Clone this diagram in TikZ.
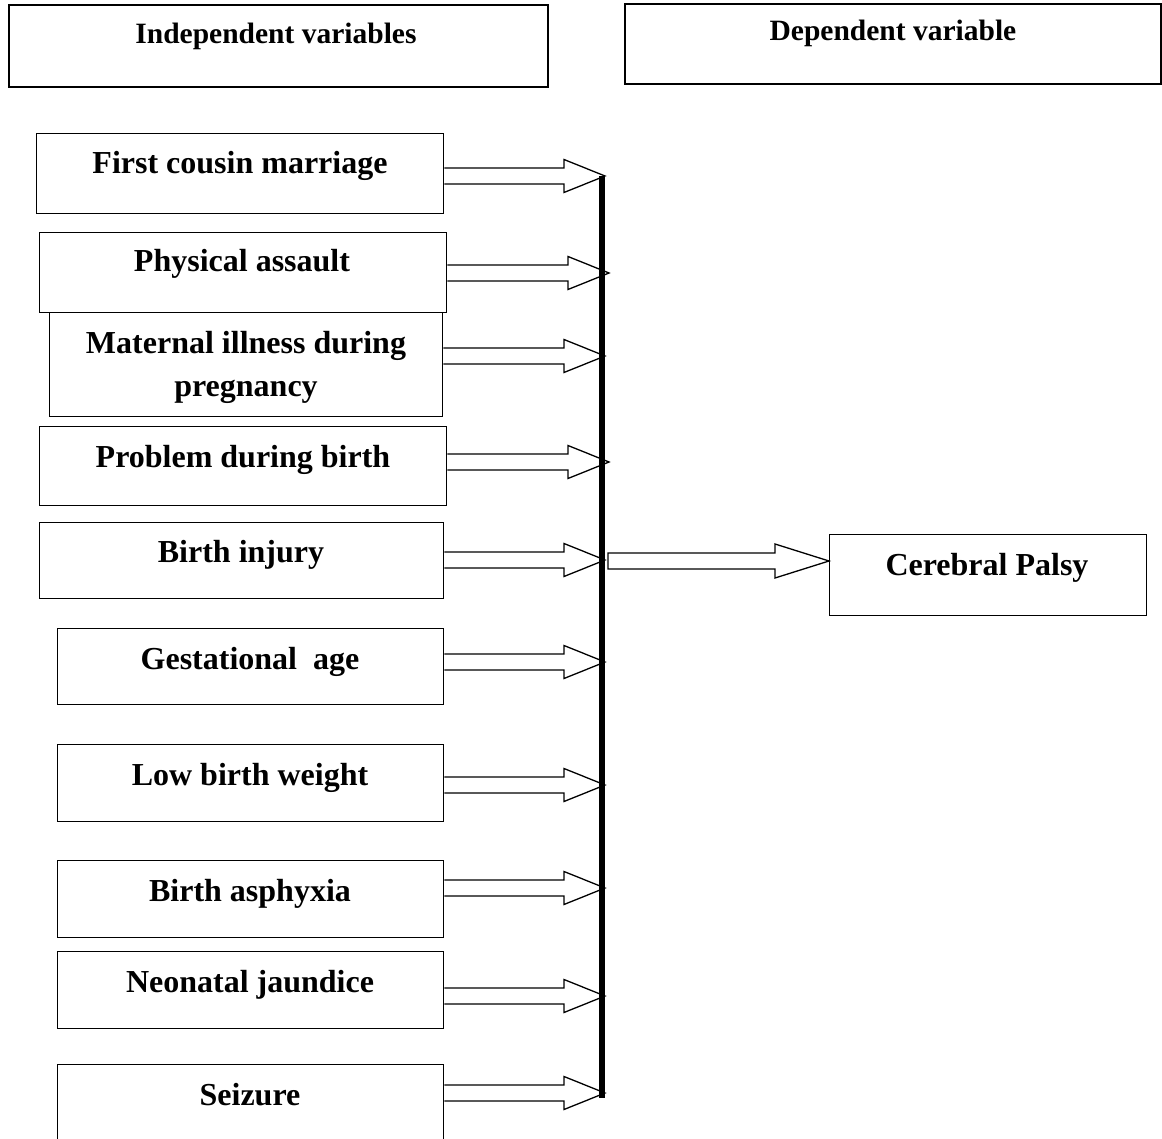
\documentclass[tikz,border=0pt]{standalone}
\usepackage{fontspec}
\setmainfont{Liberation Serif}
\usetikzlibrary{calc}
\tikzset{
  hdrbox/.style={draw, line width=2pt, anchor=north west, inner sep=0pt},
  itembox/.style={draw, line width=1.3pt, anchor=north west, inner sep=0pt},
  itemtxt/.style={anchor=base, inner sep=0pt, font=\fontsize{32}{40}\selectfont\bfseries},
  hdrtxt/.style={anchor=base, inner sep=0pt, font=\fontsize{29.5}{36}\selectfont\bfseries},
  blockline/.style={draw, line width=1.3pt, fill=white, line join=miter},
  barline/.style={line width=6pt, line cap=butt},
}
\newcommand\blockarr[2]{%
  \draw[blockline] ($(#1)+(0,-8)$) -- ($(#2)+(-41,-8)$) -- ($(#2)+(-41,-16.5)$) -- (#2)
    -- ($(#2)+(-41,16.5)$) -- ($(#2)+(-41,8)$) -- ($(#1)+(0,8)$);}
\begin{document}
\begin{tikzpicture}[x=1pt,y=-1pt]
\useasboundingbox (0,0) rectangle (1162,1139);
\clip (0,0) rectangle (1162,1139);
% header boxes
\node[hdrbox, minimum width=539, minimum height=82] (hi) at (8,4) {};
\node[hdrbox, minimum width=536, minimum height=80] (hd) at (624,3) {};
\node[hdrtxt] (hitxt) at (276,44) {Independent variables};
\node[hdrtxt] (hdtxt) at (893,41) {Dependent variable};
% item boxes
\node[itembox, minimum width=407, minimum height=80]  (b1)  at (36,133) {};
\node[itembox, minimum width=407, minimum height=80]  (b2)  at (39,232) {};
\node[itembox, minimum width=393, minimum height=104] (b3)  at (49,312) {};
\node[itembox, minimum width=407, minimum height=79]  (b4)  at (39,426) {};
\node[itembox, minimum width=404, minimum height=76]  (b5)  at (39,522) {};
\node[itembox, minimum width=386, minimum height=76]  (b6)  at (57,628) {};
\node[itembox, minimum width=386, minimum height=77]  (b7)  at (57,744) {};
\node[itembox, minimum width=386, minimum height=77]  (b8)  at (57,860) {};
\node[itembox, minimum width=386, minimum height=77]  (b9)  at (57,951) {};
\node[itembox, minimum width=386, minimum height=96]  (b10) at (57,1064) {};
\node[itembox, minimum width=317, minimum height=81]  (cp)  at (829,534) {};
% texts
\node[itemtxt] (tx1)  at (240,174)  {First cousin marriage};
\node[itemtxt] (tx2)  at (242,272)  {Physical assault};
\node[itemtxt] (tx3)  at (246,354)  {Maternal illness during};
\node[itemtxt] (tx3b) at (246,397)  {pregnancy};
\node[itemtxt] (tx4)  at (243,467)  {Problem during birth};
\node[itemtxt] (tx5)  at (241,562)  {Birth injury};
\node[itemtxt] (tx6)  at (250,669)  {Gestational\ \ age};
\node[itemtxt] (tx7)  at (250,785)  {Low birth weight};
\node[itemtxt] (tx8)  at (250,901)  {Birth asphyxia};
\node[itemtxt] (tx9)  at (250,992)  {Neonatal jaundice};
\node[itemtxt] (tx10) at (250,1105) {Seizure};
\node[itemtxt] (cptxt) at (987,575) {Cerebral Palsy};
% arrow tips on the bar
\coordinate (t1)  at (605,176);
\coordinate (t2)  at (609,273);
\coordinate (t3)  at (605,356);
\coordinate (t4)  at (609,462);
\coordinate (t5)  at (605,560);
\coordinate (t6)  at (605,662);
\coordinate (t7)  at (605,785);
\coordinate (t8)  at (605,888);
\coordinate (t9)  at (605,996);
\coordinate (t10) at (605,1093);
\foreach \i in {1,...,10}{
  \coordinate (s\i) at (b\i.east |- t\i);
  \blockarr{s\i}{t\i}
}
% bar
\coordinate (bartop) at (601.5,176);
\coordinate (barbot) at (601.5,1098);
\draw[barline] (bartop) -- (barbot);
% arrow to Cerebral Palsy
\coordinate (cy) at (0,561);
\coordinate (ct) at (cp.west |- cy);
\coordinate (cs) at (608,561);
\draw[blockline] ($(cs)+(0,-8)$) -- ($(ct)+(-54,-8)$) -- ($(ct)+(-54,-17)$) -- (ct)
  -- ($(ct)+(-54,17)$) -- ($(ct)+(-54,8)$) -- ($(cs)+(0,8)$) -- cycle;
\end{tikzpicture}
\end{document}
